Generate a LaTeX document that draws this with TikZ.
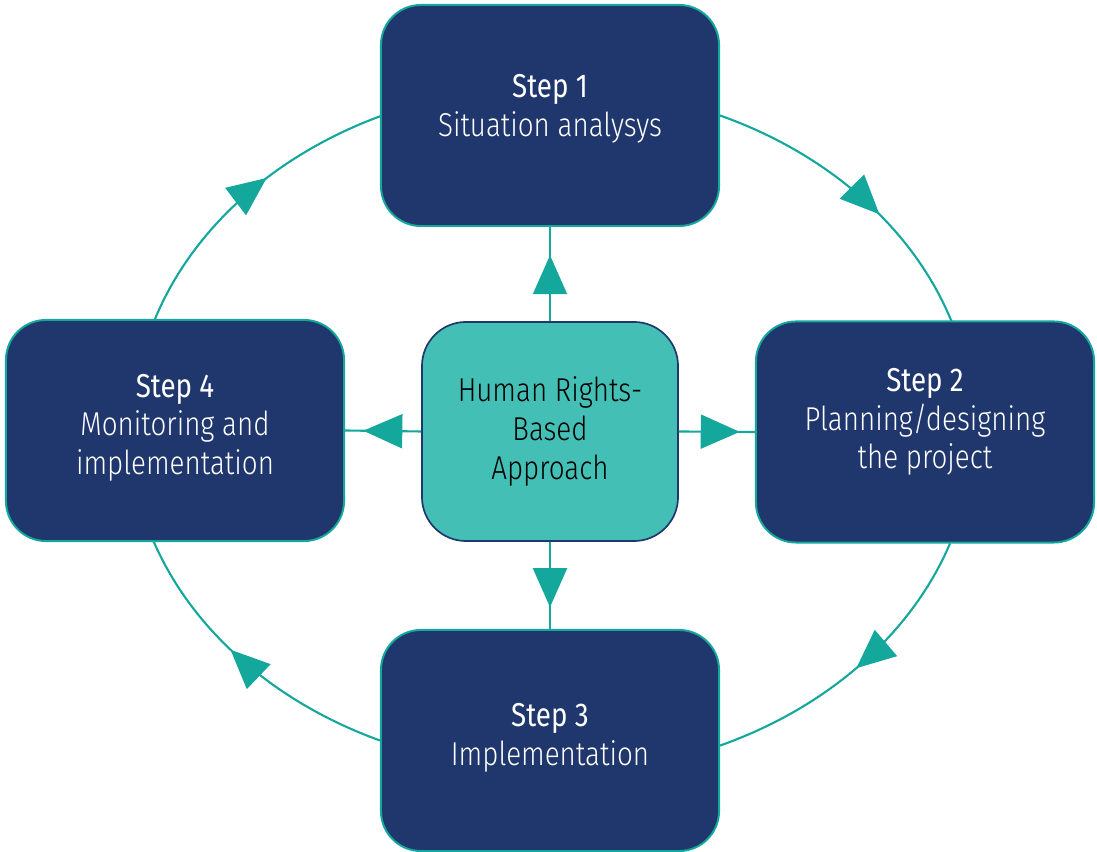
\documentclass[tikz,border=0pt]{standalone}
\usepackage{fontspec}
\setmainfont{Fira Sans Light}[FakeStretch=0.84]
\newfontfamily\regfont{Fira Sans}[FakeStretch=0.84]
\usetikzlibrary{arrows.meta,decorations.markings,backgrounds,calc}

\definecolor{navy}{HTML}{20376D}
\definecolor{tealline}{HTML}{14A89D}
\definecolor{hubfill}{HTML}{43BFB5}

\begin{document}
\begin{tikzpicture}[x=0.025cm,y=0.025cm,
  stepbox/.style={draw=tealline, fill=navy, line width=1.4pt,
    rounded corners=1cm, minimum width=8.45cm, minimum height=5.525cm,
    text=white, align=center, font=\fontsize{23.5}{27.5}\selectfont},
  lift/.style={text depth=#1},
  hubbox/.style={draw=navy, fill=hubfill, line width=1.2pt,
    rounded corners=1.1cm, minimum width=6.4cm, minimum height=5.475cm,
    text=black, align=center, font=\fontsize{23.5}{27.5}\selectfont},
  flow/.style={draw=tealline, line width=1.5pt, postaction={decorate},
    decoration={markings, mark=at position #1 with {\arrow[tealline]{Triangle[length=0.975cm, width=0.85cm]}}}},
  flow/.default=0.6
]
\useasboundingbox (0,0) rectangle (1097,852);

% the four steps and the hub
\node[stepbox, lift=0.515cm] (s1) at (550,736.5) {{\regfont Step 1}\\Situation analysys};
\node[stepbox, lift=0.665cm] (s2) at (925,420) {{\regfont Step 2}\\Planning/designing\\the project};
\node[stepbox, lift=0.315cm] (s3) at (550,111.5) {{\regfont Step 3}\\Implementation};
\node[stepbox, lift=0.315cm] (s4) at (175,421.5) {{\regfont Step 4}\\Monitoring and\\implementation};
\node[hubbox] (hub) at (550,420.5) {Human Rights-\\Based\\Approach};

% elliptical cycle between the steps
\begin{scope}[on background layer]
  \draw[flow=0.59] (s1.east) arc[start angle=66.5, end angle=18.3, x radius=421.4, y radius=343.5];
  \draw[flow=0.50] ($(s2.south)+(25,0)$) arc[start angle=-19.2, end angle=-66.5, x radius=421.4, y radius=343.5];
  \draw[flow=0.56] (s3.west) arc[start angle=-113.9, end angle=-161.2, x radius=421.4, y radius=343.5];
  \draw[flow=0.58] ($(s4.north)+(-20,0)$) arc[start angle=161.3, end angle=114.1, x radius=421.4, y radius=343.5];
\end{scope}

% spokes from the hub to each step
\draw[flow=0.70] (hub.north) -- (s1.south);
\draw[flow=0.80] (hub.east) -- (s2.west);
\draw[flow=0.76] (hub.west) -- (s4.east);
\draw[flow=0.75] (hub.south) -- (s3.north);
\end{tikzpicture}
\end{document}
